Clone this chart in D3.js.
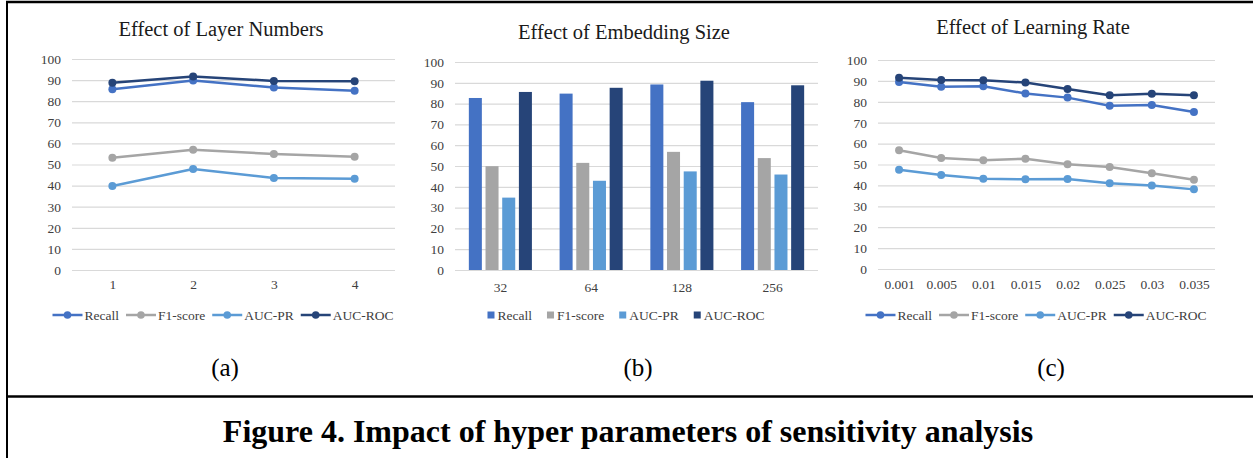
<!DOCTYPE html>
<html>
<head>
<meta charset="utf-8">
<script src="https://d3js.org/d3.v7.min.js"></script>
<style>
  html, body { margin: 0; padding: 0; background: #fff; }
  svg { display: block; }
  text { font-family: "Liberation Serif", "Times New Roman", serif; fill: #404040; }
</style>
</head>
<body>
<svg id="fig" width="1253" height="458"></svg>
<script>
// ---- data ----
const seriesNames = ["Recall", "F1-score", "AUC-PR", "AUC-ROC"];
const seriesColors = ["#4472C4", "#A5A5A5", "#5B9BD5", "#264478"];
const yTicks = [0, 10, 20, 30, 40, 50, 60, 70, 80, 90, 100];

// (a) layer numbers
const layerCats = ["1", "2", "3", "4"];
const layerRecall = [85.7, 89.8, 86.5, 85.0];
const layerF1 = [53.2, 57.0, 55.0, 53.7];
const layerAucPr = [39.8, 47.9, 43.6, 43.3];
const layerAucRoc = [88.8, 91.7, 89.6, 89.4];

// (b) embedding size
const embCats = ["32", "64", "128", "256"];
const embRecall = [82.7, 84.8, 89.2, 80.7];
const embF1 = [49.9, 51.5, 56.8, 53.8];
const embAucPr = [34.8, 42.9, 47.4, 45.9];
const embAucRoc = [85.6, 87.6, 91.0, 88.8];

// (c) learning rate
const lrCats = ["0.001", "0.005", "0.01", "0.015", "0.02", "0.025", "0.03", "0.035"];
const lrRecall = [89.5, 87.2, 87.4, 84.0, 82.0, 78.1, 78.5, 75.1];
const lrF1 = [56.8, 53.1, 52.0, 52.8, 50.1, 48.8, 45.8, 42.7];
const lrAucPr = [47.5, 45.0, 43.2, 42.9, 43.1, 41.0, 39.9, 38.1];
const lrAucRoc = [91.5, 90.4, 90.3, 89.2, 86.1, 83.1, 83.9, 83.1];

const svg = d3.select("#fig");

// frame lines
svg.append("line").attr("x1", 6).attr("x2", 1253).attr("y1", 2).attr("y2", 2)
  .attr("stroke", "#000").attr("stroke-width", 2.5);
svg.append("line").attr("x1", 7).attr("x2", 7).attr("y1", 1).attr("y2", 458)
  .attr("stroke", "#000").attr("stroke-width", 2);
svg.append("line").attr("x1", 6).attr("x2", 1253).attr("y1", 396.5).attr("y2", 396.5)
  .attr("stroke", "#000").attr("stroke-width", 2.5);

function panelFrame(cfg) {
  const g = svg.append("g");
  const y = d3.scaleLinear().domain([0, 100]).range([cfg.y0, cfg.y1]);

  // title
  g.append("text").attr("x", cfg.titleX).attr("y", cfg.titleY)
    .attr("text-anchor", "middle").style("font-size", "20.5px").style("fill", "#1a1a1a")
    .text(cfg.title);

  // gridlines + y labels
  const yAxis = d3.axisLeft(y).tickValues(yTicks).tickSize(-(cfg.x1 - cfg.x0)).tickPadding(11);
  const ya = g.append("g").attr("transform", `translate(${cfg.x0},0)`).call(yAxis);
  ya.select(".domain").remove();
  ya.selectAll(".tick line").attr("stroke", "#D9D9D9").attr("stroke-width", 1.2);
  ya.selectAll(".tick text").style("font-size", "13.5px").style("font-family", "Liberation Serif")
    .attr("fill", "#333");
  return { g, y };
}

function xLabels(g, x, cats, yPos) {
  const xa = d3.axisBottom(x).tickSize(0).tickPadding(0);
  const xg = g.append("g").attr("transform", `translate(0,${yPos})`).call(xa);
  xg.select(".domain").remove();
  xg.selectAll(".tick text").style("font-size", "13.5px").style("font-family", "Liberation Serif")
    .attr("fill", "#333").attr("dy", "0");
}

function lineLegend(g, cx, cy) {
  const lg = g.append("g");
  let xPos = 0;
  seriesNames.forEach((name, i) => {
    const it = lg.append("g").attr("transform", `translate(${xPos},0)`);
    it.append("line").attr("x1", 0).attr("x2", 30).attr("y1", 0).attr("y2", 0)
      .attr("stroke", seriesColors[i]).attr("stroke-width", 2.5);
    it.append("circle").attr("cx", 15).attr("cy", 0).attr("r", 3.8).attr("fill", seriesColors[i]);
    const t = it.append("text").attr("x", 32).attr("y", 4.5).style("font-size", "13.5px").text(name);
    xPos += 32 + t.node().getComputedTextLength() + 7;
  });
  const w = xPos - 7;
  lg.attr("transform", `translate(${cx - w / 2},${cy})`);
}

function barLegend(g, cx, cy) {
  const lg = g.append("g");
  let xPos = 0;
  seriesNames.forEach((name, i) => {
    const it = lg.append("g").attr("transform", `translate(${xPos},0)`);
    it.append("rect").attr("x", 0).attr("y", -3.5).attr("width", 7).attr("height", 7).attr("fill", seriesColors[i]);
    const t = it.append("text").attr("x", 10).attr("y", 4.5).style("font-size", "13.5px").text(name);
    xPos += 10 + t.node().getComputedTextLength() + 15;
  });
  const w = xPos - 15;
  lg.attr("transform", `translate(${cx - w / 2},${cy})`);
}

function linePanel(cfg, cats, seriesData) {
  const { g, y } = panelFrame(cfg);
  const x = d3.scalePoint().domain(cats).range([cfg.x0, cfg.x1]).padding(0.5);
  xLabels(g, x, cats, cfg.xLabelY);
  const line = d3.line().x((d, i) => x(cats[i])).y(d => y(d));
  seriesData.forEach((vals, si) => {
    g.append("path").datum(vals).attr("d", line).attr("fill", "none")
      .attr("stroke", seriesColors[si]).attr("stroke-width", 2.5).attr("stroke-linejoin", "round");
    g.selectAll(null).data(vals).enter().append("circle")
      .attr("cx", (d, i) => x(cats[i])).attr("cy", d => y(d)).attr("r", 4)
      .attr("fill", seriesColors[si]);
  });
  lineLegend(g, cfg.legendX, cfg.legendY);
}

function barPanel(cfg, cats, seriesData) {
  const { g, y } = panelFrame(cfg);
  const x0 = d3.scaleBand().domain(cats).range([cfg.x0, cfg.x1]).padding(0);
  const groupW = x0.bandwidth() * 0.695;
  const x1 = d3.scaleBand().domain(seriesNames).range([0, groupW]).paddingInner(0.22).paddingOuter(0);
  xLabels(g, x0, cats, cfg.xLabelY);
  cats.forEach((c, ci) => {
    const gx = x0(c) + (x0.bandwidth() - groupW) / 2;
    seriesData.forEach((vals, si) => {
      g.append("rect").attr("x", gx + x1(seriesNames[si])).attr("width", x1.bandwidth())
        .attr("y", y(vals[ci])).attr("height", y(0) - y(vals[ci]))
        .attr("fill", seriesColors[si]);
    });
  });
  barLegend(g, cfg.legendX, cfg.legendY);
}

linePanel({ title: "Effect of Layer Numbers", titleX: 221, titleY: 36,
  x0: 72, x1: 395, y0: 270, y1: 59, xLabelY: 289, legendX: 223, legendY: 315 },
  layerCats, [layerRecall, layerF1, layerAucPr, layerAucRoc]);

barPanel({ title: "Effect of Embedding Size", titleX: 624, titleY: 39,
  x0: 455, x1: 818, y0: 270, y1: 62, xLabelY: 292, legendX: 626, legendY: 315 },
  embCats, [embRecall, embF1, embAucPr, embAucRoc]);

linePanel({ title: "Effect of Learning Rate", titleX: 1033, titleY: 34,
  x0: 878, x1: 1215, y0: 269, y1: 60, xLabelY: 289, legendX: 1036, legendY: 315 },
  lrCats, [lrRecall, lrF1, lrAucPr, lrAucRoc]);

// sub-figure labels
[["(a)", 225], ["(b)", 638], ["(c)", 1051]].forEach(([t, cx]) => {
  svg.append("text").attr("x", cx).attr("y", 376).attr("text-anchor", "middle")
    .style("font-size", "25px").style("fill", "#000").text(t);
});

// caption, fitted to the width it takes in the figure
const cap = svg.append("text").attr("x", 628).attr("y", 442).attr("text-anchor", "middle")
  .style("font-family", "Liberation Serif").style("font-weight", "bold").style("font-size", "20px")
  .style("fill", "#000").text("Figure 4. Impact of hyper parameters of sensitivity analysis");
const capW = cap.node().getComputedTextLength();
cap.style("font-size", Math.min(32, 20 * 825 / capW).toFixed(2) + "px");
</script>
</body>
</html>
